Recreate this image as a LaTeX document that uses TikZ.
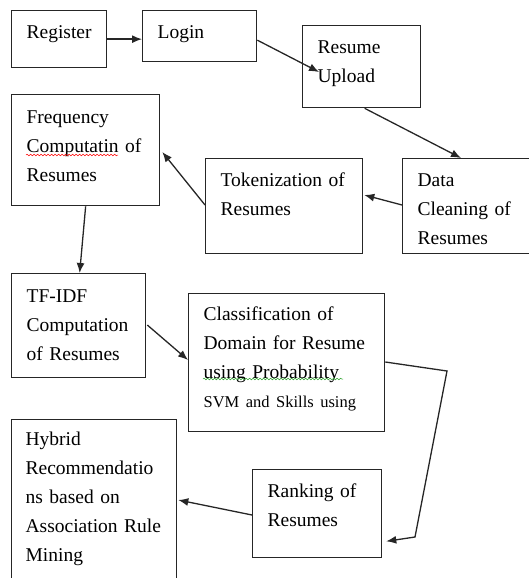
\documentclass[tikz,border=0pt]{standalone}
\usepackage{fontspec}
\setmainfont{Liberation Serif}
\usetikzlibrary{arrows.meta,calc,decorations.pathmorphing}

\definecolor{grammargreen}{RGB}{40,160,40}

\tikzset{
  stage/.style={draw=black!85, line width=1.3pt, anchor=north west, align=left,
    inner xsep=15pt, inner ysep=0pt, text height=28pt,
    font=\fontsize{19.5}{29}\selectfont},
  flow/.style={draw=black!85, line width=1.3pt, -{Latex[length=10pt,width=8pt]}},
  spellwave/.style={draw=#1, line width=0.5pt, decorate,
    decoration={snake, amplitude=0.8pt, segment length=3.5pt}}
}

\begin{document}
\begin{tikzpicture}[x=1pt,y=-1pt]

    \useasboundingbox (0,0) rectangle (528,578);

    % Boxes
    \node[stage, text width=65pt, text depth=29pt] (reg) at (11,10) {Register};
    \node[stage, text width=84pt, text depth=23pt] (login) at (142,10) {Login};
    \node[stage, text width=88pt, text depth=54pt] (upload) at (302,25) {Resume\\Upload};
    \node[stage, text width=110pt, text depth=67pt] (clean) at (402,158) {Data\\Cleaning of\\Resumes};
    \node[stage, text width=127pt, text depth=67pt] (token) at (205,158) {Tokenization of\\Resumes};
    \node[stage, text width=118pt, text height=29pt, text depth=82pt] (freq) at (11,94)
        {Frequency\\Computatin of\\Resumes};
    \node[stage, text width=104pt, text height=29pt, text depth=75pt] (tfidf) at (11,273)
        {TF-IDF\\Computation\\of Resumes};
    \node[stage, text width=166pt, text height=27pt, text depth=111pt] (class) at (188,293)
        {Classification of\\Domain for Resume\\using Probability\\{\fontsize{16.5}{28}\selectfont SVM and Skills using}};
    \node[stage, text width=99pt, text depth=60pt] (rank) at (252,469) {Ranking of\\Resumes};
    \node[stage, inner xsep=14pt, text width=137pt, text height=26pt, text depth=154pt] (hybrid) at (11,419)
        {Hybrid\\Recommendatio\\ns based on\\\mbox{Association Rule}\\Mining};

    % Spelling marks
    \draw[spellwave=red] ($(freq.north west)+(15,61)$) -- ++(92,0);
    \draw[spellwave=grammargreen] ($(class.north west)+(15,86)$) -- ++(140,0);

    % Bends
    \coordinate (bendA) at (447,371);
    \coordinate (bendB) at (415,537);

    % Arrows
    \draw[flow] (reg.east) -- (reg.east -| login.west);
    \draw[flow] ($(login.east)+(0,4)$) -- ($(upload.north west)+(17,47)$);
    \draw[flow] ($(upload.south)+(3,0)$) -- ($(clean.north west)+(59,0)$);
    \draw[flow] ($(clean.north west)+(0,47)$) -- ($(token.north east)+(1,37)$);
    \draw[flow] ($(token.north west)+(0,47)$) -- ($(freq.north east)+(2,58)$);
    \draw[flow] (freq.south) -- ($(tfidf.north)+(1,0)$);
    \draw[flow] ($(tfidf.north east)+(1,52)$) -- ($(class.north west)+(0,67)$);
    \draw[flow] ($(class.north east)+(0,69)$) -- (bendA) -- (bendB) -- ($(rank.south east)+(4,-17)$);
    \draw[flow] ($(rank.north west)+(0,46)$) -- ($(hybrid.north east)+(1,81)$);

\end{tikzpicture}
\end{document}
